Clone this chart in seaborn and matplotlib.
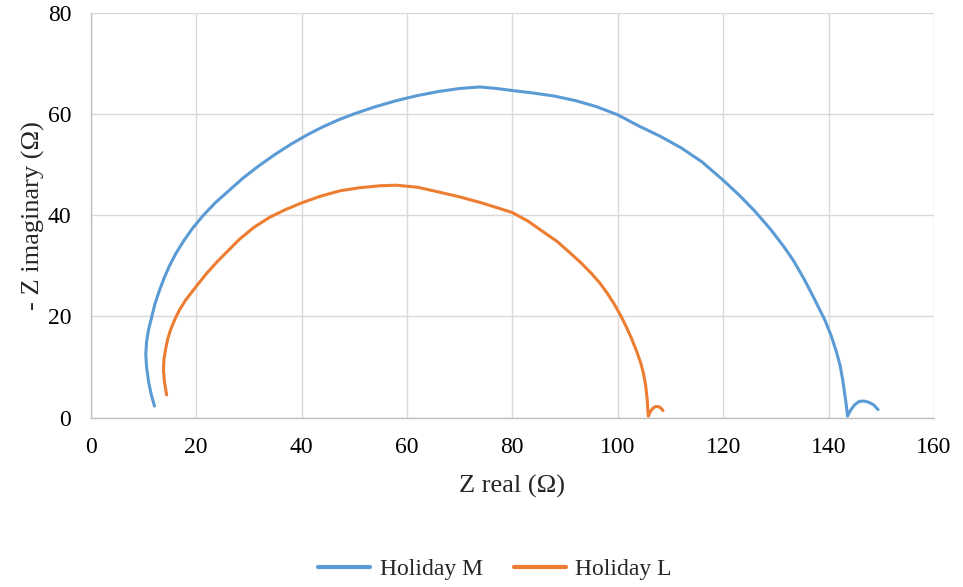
import matplotlib
matplotlib.use("Agg")
import matplotlib.pyplot as plt
import pandas as pd
import seaborn as sns

# Nyquist data (Z real, -Z imaginary), in ohms
m_real = [12.1, 11.5, 11.0, 10.6, 10.45, 10.6, 11.0, 11.6, 12.2, 13.0, 13.9, 14.95,
          16.2, 17.7, 19.4, 21.4, 23.7, 26.4, 29.0, 32.0, 35.0, 38.0, 41.0, 44.0,
          47.0, 50.0, 54.0, 58.0, 62.0, 66.0, 70.0, 73.9, 77.0, 80.0, 84.0,
          88.0, 92.0, 96.0, 100.0, 104.0, 108.0, 112.0, 116.0, 120.0, 123.0,
          126.0, 129.0, 131.5, 133.3, 135.3, 137.1, 139.3, 140.5, 141.5, 142.2,
          142.7, 143.1, 143.4, 143.6, 144.2, 145.0, 145.8, 146.6, 147.5, 148.5,
          149.4]
m_imag = [2.3, 4.5, 7.0, 10.0, 12.5, 15.0, 17.5, 20.0, 22.5, 25.0, 27.5, 30.0,
          32.5, 35.0, 37.5, 40.0, 42.5, 45.0, 47.4, 49.8, 52.0, 54.0, 55.8, 57.4,
          58.8, 60.0, 61.4, 62.6, 63.6, 64.4, 65.0, 65.3, 65.0, 64.6, 64.1,
          63.5, 62.6, 61.4, 59.8, 57.6, 55.6, 53.3, 50.5, 46.9, 44.0,
          40.8, 37.2, 33.8, 31.1, 27.5, 23.9, 19.3, 16.2, 13.0, 10.3,
          7.4, 4.5, 2.3, 0.3, 1.5, 2.6, 3.2, 3.3, 3.1, 2.6,
          1.6]

l_real = [14.4, 14.0, 13.8, 13.9, 14.2, 14.6, 15.2, 16.0, 16.8, 18.0, 20.0, 22.0,
          24.0, 26.0, 28.3, 31.0, 34.0, 37.0, 40.0, 43.5, 47.3, 51.0, 55.0, 58.0,
          62.0, 66.3, 70.0, 73.9, 77.0, 80.0, 83.0, 86.0, 88.5, 90.9, 93.0, 95.0,
          96.6, 98.0, 99.3, 100.5, 101.6, 102.6, 103.6, 104.4, 104.9, 105.3,
          105.6, 105.8, 106.2, 106.7, 107.2, 107.7, 108.2, 108.6]
l_imag = [4.5, 7.0, 9.4, 11.5, 13.5, 15.5, 17.5, 19.5, 21.2, 23.2, 25.9, 28.5,
          30.8, 32.9, 35.3, 37.6, 39.6, 41.1, 42.4, 43.7, 44.8, 45.4, 45.8, 45.9,
          45.5, 44.5, 43.6, 42.5, 41.5, 40.5, 38.8, 36.6, 34.8, 32.6, 30.6, 28.5,
          26.6, 24.6, 22.5, 20.3, 18.0, 15.7, 13.1, 10.7, 8.7, 6.4,
          3.5, 0.3, 1.2, 1.9, 2.2, 2.2, 1.9, 1.4]

df = pd.concat([
    pd.DataFrame({"real": m_real, "imag": m_imag, "sample": "Holiday M"}),
    pd.DataFrame({"real": l_real, "imag": l_imag, "sample": "Holiday L"}),
])

sns.set_style("white")
plt.rcParams["font.family"] = ["Liberation Serif", "DejaVu Serif"]

fig = plt.figure(figsize=(9.63, 5.87), dpi=100)
ax = fig.add_axes([0.0942, 0.2884, 0.8756, 0.6903])

sns.lineplot(data=df, x="real", y="imag", hue="sample", sort=False, estimator=None,
             units="sample", palette=["#5B9BD5", "#ED7D31"], linewidth=2.2,
             legend=False, ax=ax)
for line in ax.lines:
    line.set_solid_joinstyle("round")
    line.set_solid_capstyle("round")

ax.set_xlim(0, 160)
ax.set_ylim(0, 80)
ax.set_xticks(range(0, 161, 20))
ax.set_yticks(range(0, 81, 20))
ax.grid(True, color="#D9D9D9", linewidth=1.0)
ax.set_axisbelow(True)
for s in ["top", "right"]:
    ax.spines[s].set_visible(False)
for s in ["left", "bottom"]:
    ax.spines[s].set_color("#BFBFBF")
    ax.spines[s].set_linewidth(1.0)
ax.tick_params(length=0, labelsize=17, colors="black")
ax.tick_params(axis="x", pad=14)
ax.tick_params(axis="y", pad=14)
ax.set_xlabel("Z real (Ω)", fontsize=19, labelpad=12)
ax.set_ylabel("- Z imaginary (Ω)", fontsize=19, labelpad=2)

handles = [plt.Line2D([], [], color="#5B9BD5", linewidth=3),
           plt.Line2D([], [], color="#ED7D31", linewidth=3)]
fig.legend(handles, ["Holiday M", "Holiday L"], loc="center",
           bbox_to_anchor=(0.514, 0.03), ncol=2, frameon=False, fontsize=17,
           handlelength=2.2, columnspacing=1.3, handletextpad=0.4)

fig.savefig("out.png", dpi=100)
